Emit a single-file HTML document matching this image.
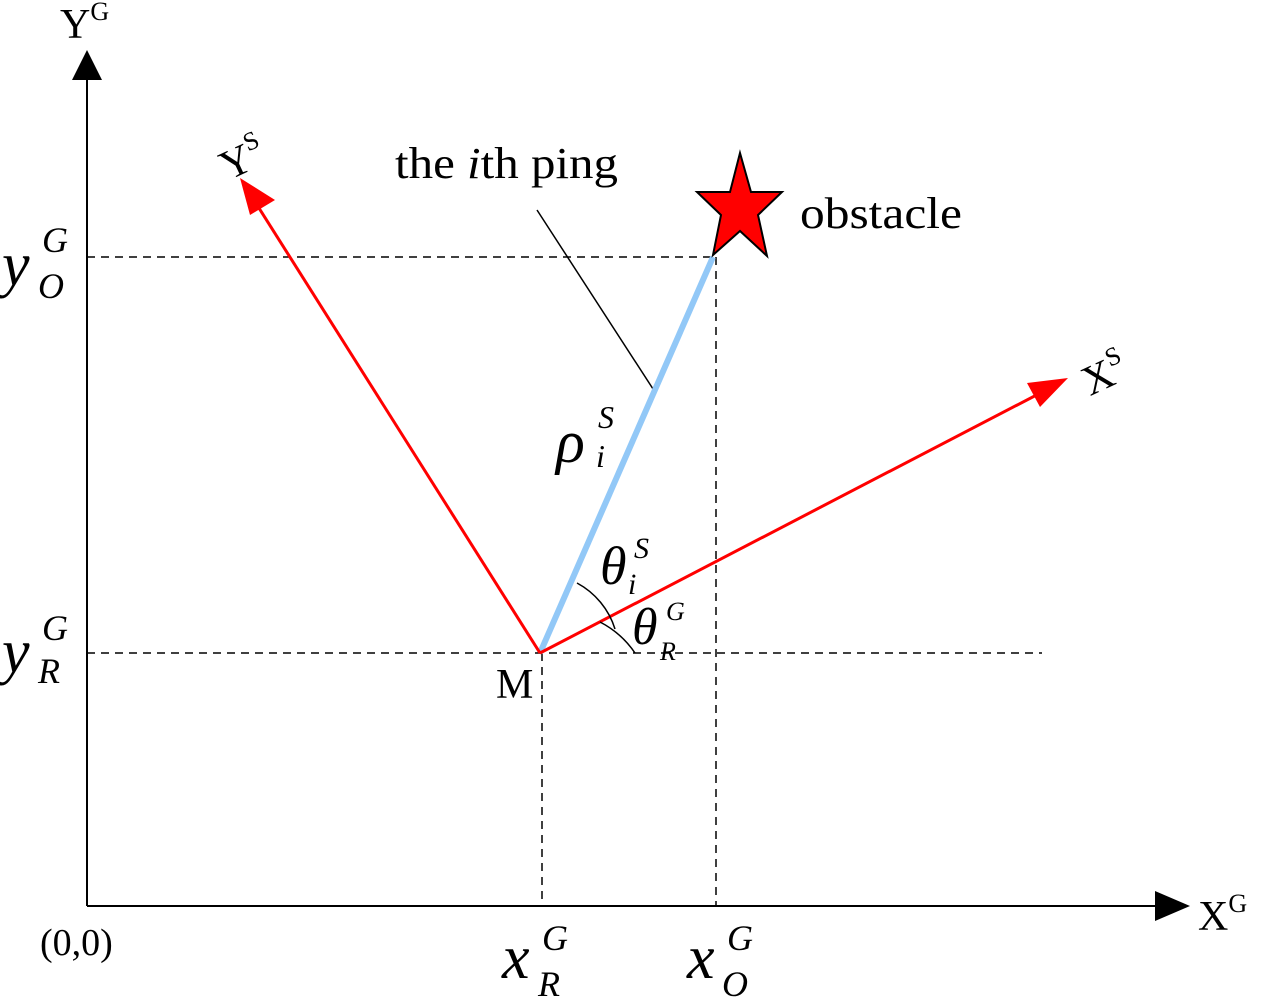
<!DOCTYPE html>
<html><head><meta charset="utf-8"><style>body{margin:0;background:#fff}svg{display:block}</style></head><body>
<svg width="1261" height="1000" viewBox="0 0 1261 1000" xmlns="http://www.w3.org/2000/svg" font-family="Liberation Serif, serif">
<line x1="87" y1="906" x2="1160" y2="906" stroke="#000" stroke-width="2"/>
<polygon points="1190,906 1155,891 1155,921" fill="#000"/>
<line x1="87" y1="906" x2="87" y2="75" stroke="#000" stroke-width="2"/>
<polygon points="87,50 72,80 102,80" fill="#000"/>
<g stroke="#000" stroke-width="1.5" stroke-dasharray="8,6" fill="none">
<line x1="87" y1="257" x2="713" y2="257"/>
<line x1="716" y1="257" x2="716" y2="906"/>
<line x1="87" y1="653" x2="1042" y2="653"/>
<line x1="542" y1="653" x2="542" y2="906"/>
</g>
<line x1="537" y1="210" x2="655" y2="392" stroke="#000" stroke-width="1.5"/>
<line x1="540" y1="653" x2="713" y2="257" stroke="#92c8f7" stroke-width="6"/>
<line x1="540" y1="653" x2="252" y2="197" stroke="#f00" stroke-width="3"/>
<polygon points="240,178 275,200 250,215" fill="#f00"/>
<line x1="540" y1="653" x2="1048" y2="389" stroke="#f00" stroke-width="3"/>
<polygon points="1068,378 1040,407 1027,383" fill="#f00"/>
<path d="M577,583 A79,79 0 0 1 615,629" stroke="#000" stroke-width="1.5" fill="none"/>
<path d="M600,622 A95,95 0 0 1 635,653" stroke="#000" stroke-width="1.5" fill="none"/>
<polygon points="740,153 751,192 782,192 758,215 767,256 740,231 713,255 721,215 697,192 730,192" fill="#f00" stroke="#000" stroke-width="2"/>
<g font-size="44" fill="#000">
<text x="395" y="178" textLength="223" lengthAdjust="spacingAndGlyphs">the <tspan font-style="italic">i</tspan>th ping</text>
<text x="800" y="228" textLength="162" lengthAdjust="spacingAndGlyphs">obstacle</text>
<text x="496" y="698" font-size="42">M</text>
<text x="40" y="955" font-size="38">(0,0)</text>
<text x="60" y="38" font-size="42">Y<tspan font-size="26" dy="-18">G</tspan></text>
<text x="1198" y="930" font-size="42">X<tspan font-size="26" dy="-18">G</tspan></text>
<text x="220" y="176" font-size="42" transform="rotate(-25 235 160)">Y<tspan font-size="26" dy="-18">S</tspan></text>
<text x="1082" y="390" font-size="42" transform="rotate(-25 1100 375)">X<tspan font-size="26" dy="-18">S</tspan></text>
</g>
<g font-style="italic" fill="#000">
<text x="2" y="285" font-size="62">y</text><text x="42" y="252" font-size="36">G</text><text x="38" y="298" font-size="36">O</text>
<text x="2" y="672" font-size="62">y</text><text x="42" y="640" font-size="36">G</text><text x="38" y="683" font-size="36">R</text>
<text x="502" y="978" font-size="62">x</text><text x="542" y="950" font-size="36">G</text><text x="538" y="996" font-size="36">R</text>
<text x="687" y="978" font-size="62">x</text><text x="727" y="950" font-size="36">G</text><text x="722" y="996" font-size="36">O</text>
<text x="556" y="462" font-size="60">ρ</text><text x="598" y="428" font-size="32">S</text><text x="596" y="467" font-size="32">i</text>
<text x="600" y="584" font-size="54">θ</text><text x="634" y="558" font-size="30">S</text><text x="628" y="594" font-size="30">i</text>
<text x="632" y="644" font-size="52">θ</text><text x="666" y="620" font-size="26">G</text><text x="660" y="660" font-size="26">R</text>
</g>
</svg>
</body></html>
